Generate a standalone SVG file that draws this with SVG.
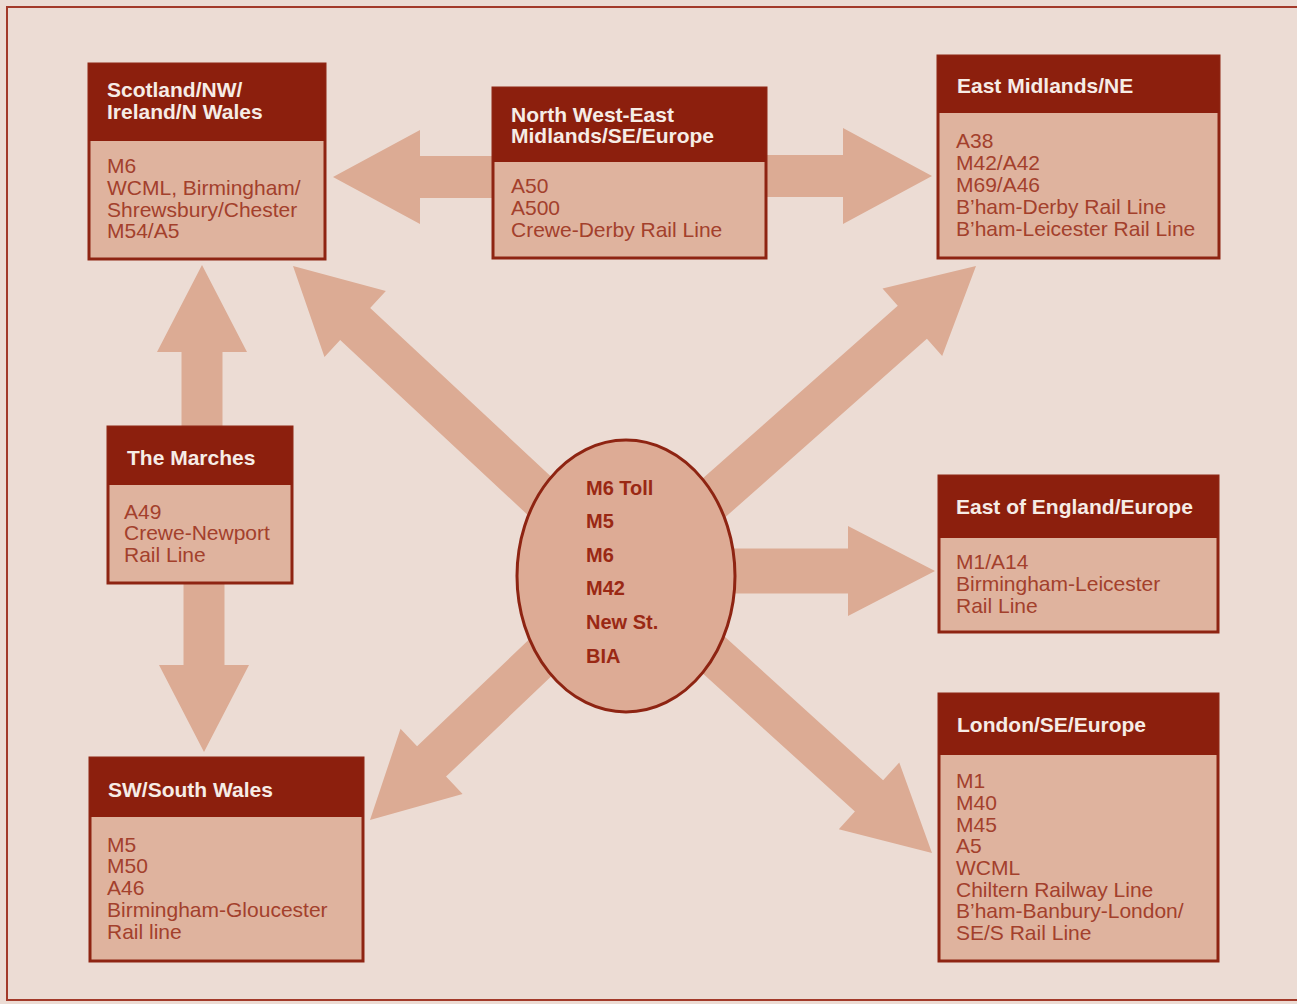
<svg xmlns="http://www.w3.org/2000/svg" width="1297" height="1004" viewBox="0 0 1297 1004">
<defs>
<style>
.bg{fill:#ecdcd4}
.frame{fill:none;stroke:#a33a2a;stroke-width:2}
.arrow{fill:#dcab94}
.box{fill:#dfb39e;stroke:#8e2412;stroke-width:3}
.hdr{fill:#8c1f0d}
.ht{font-family:"Liberation Sans",Arial,sans-serif;font-weight:bold;font-size:21px;fill:#f6ece6}
.bt{font-family:"Liberation Sans",Arial,sans-serif;font-size:21px;fill:#a3402c}
.hub{fill:#ddab95;stroke:#8e2412;stroke-width:3}
.et{font-family:"Liberation Sans",Arial,sans-serif;font-weight:bold;font-size:20px;fill:#9a2814}
</style>
</defs>
<rect class="bg" x="0" y="0" width="1297" height="1004"/>
<rect class="frame" x="7" y="7" width="1300" height="993"/>

<g id="connectors">
  <!-- top horizontal double arrow -->
  <polygon class="arrow" transform="translate(333,177) rotate(180)" points="0,0 -87,-47 -87,-21 -180,-21 -180,21 -87,21 -87,47"/>
  <polygon class="arrow" transform="translate(932,176) rotate(0)" points="0,0 -89,-48 -89,-21 -180,-21 -180,21 -89,21 -89,48"/>
  <!-- vertical double arrow -->
  <polygon class="arrow" transform="translate(202,265) rotate(-90)" points="0,0 -87,-45 -87,-20.5 -170,-20.5 -170,20.5 -87,20.5 -87,45"/>
  <polygon class="arrow" transform="translate(204,752) rotate(90)" points="0,0 -87,-45 -87,-20.5 -175,-20.5 -175,20.5 -87,20.5 -87,45"/>
  <!-- from hub -->
  <polygon class="arrow" transform="translate(293,266) rotate(223)" points="0,0 -85,-45 -85,-22 -420,-22 -420,22 -85,22 -85,45"/>
  <polygon class="arrow" transform="translate(976,266) rotate(-41.5)" points="0,0 -85,-45 -85,-22 -420,-22 -420,22 -85,22 -85,45"/>
  <polygon class="arrow" transform="translate(935,571) rotate(0)" points="0,0 -87,-45 -87,-22.5 -300,-22.5 -300,22.5 -87,22.5 -87,45"/>
  <polygon class="arrow" transform="translate(370,820) rotate(136.4)" points="0,0 -85,-45 -85,-21 -340,-21 -340,21 -85,21 -85,45"/>
  <polygon class="arrow" transform="translate(932,853) rotate(42.2)" points="0,0 -85,-45 -85,-21 -400,-21 -400,21 -85,21 -85,45"/>
</g>

<g id="hub">
  <ellipse class="hub" cx="626" cy="576" rx="109" ry="136"/>
  <text class="et" x="586" y="495">M6 Toll</text>
  <text class="et" x="586" y="528">M5</text>
  <text class="et" x="586" y="562">M6</text>
  <text class="et" x="586" y="595">M42</text>
  <text class="et" x="586" y="629">New St.</text>
  <text class="et" x="586" y="663">BIA</text>
</g>

<g id="scotland">
  <rect class="box" x="89" y="64" width="236" height="195"/>
  <rect class="hdr" x="89" y="64" width="236" height="77"/>
  <text class="ht" x="107" y="97">Scotland/NW/</text>
  <text class="ht" x="107" y="119">Ireland/N Wales</text>
  <text class="bt" x="107" y="173">M6</text>
  <text class="bt" x="107" y="195">WCML, Birmingham/</text>
  <text class="bt" x="107" y="217">Shrewsbury/Chester</text>
  <text class="bt" x="107" y="238">M54/A5</text>
</g>

<g id="nw-east">
  <rect class="box" x="493" y="88" width="273" height="170"/>
  <rect class="hdr" x="493" y="88" width="273" height="74"/>
  <text class="ht" x="511" y="122">North West-East</text>
  <text class="ht" x="511" y="143">Midlands/SE/Europe</text>
  <text class="bt" x="511" y="193">A50</text>
  <text class="bt" x="511" y="215">A500</text>
  <text class="bt" x="511" y="237">Crewe-Derby Rail Line</text>
</g>

<g id="east-midlands">
  <rect class="box" x="938" y="56" width="281" height="202"/>
  <rect class="hdr" x="938" y="56" width="281" height="57"/>
  <text class="ht" x="957" y="93">East Midlands/NE</text>
  <text class="bt" x="956" y="148">A38</text>
  <text class="bt" x="956" y="170">M42/A42</text>
  <text class="bt" x="956" y="192">M69/A46</text>
  <text class="bt" x="956" y="214">B’ham-Derby Rail Line</text>
  <text class="bt" x="956" y="236">B’ham-Leicester Rail Line</text>
</g>

<g id="marches">
  <rect class="box" x="108" y="427" width="184" height="156"/>
  <rect class="hdr" x="108" y="427" width="184" height="58"/>
  <text class="ht" x="127" y="465">The Marches</text>
  <text class="bt" x="124" y="519">A49</text>
  <text class="bt" x="124" y="540">Crewe-Newport</text>
  <text class="bt" x="124" y="562">Rail Line</text>
</g>

<g id="east-england">
  <rect class="box" x="939" y="476" width="279" height="156"/>
  <rect class="hdr" x="939" y="476" width="279" height="62"/>
  <text class="ht" x="956" y="514">East of England/Europe</text>
  <text class="bt" x="956" y="569">M1/A14</text>
  <text class="bt" x="956" y="591">Birmingham-Leicester</text>
  <text class="bt" x="956" y="613">Rail Line</text>
</g>

<g id="london">
  <rect class="box" x="939" y="694" width="279" height="267"/>
  <rect class="hdr" x="939" y="694" width="279" height="61"/>
  <text class="ht" x="957" y="732">London/SE/Europe</text>
  <text class="bt" x="956" y="788">M1</text>
  <text class="bt" x="956" y="810">M40</text>
  <text class="bt" x="956" y="832">M45</text>
  <text class="bt" x="956" y="853">A5</text>
  <text class="bt" x="956" y="875">WCML</text>
  <text class="bt" x="956" y="897">Chiltern Railway Line</text>
  <text class="bt" x="956" y="918">B’ham-Banbury-London/</text>
  <text class="bt" x="956" y="940">SE/S Rail Line</text>
</g>

<g id="sw-wales">
  <rect class="box" x="90" y="758" width="273" height="203"/>
  <rect class="hdr" x="90" y="758" width="273" height="59"/>
  <text class="ht" x="108" y="797">SW/South Wales</text>
  <text class="bt" x="107" y="852">M5</text>
  <text class="bt" x="107" y="873">M50</text>
  <text class="bt" x="107" y="895">A46</text>
  <text class="bt" x="107" y="917">Birmingham-Gloucester</text>
  <text class="bt" x="107" y="939">Rail line</text>
</g>
</svg>
